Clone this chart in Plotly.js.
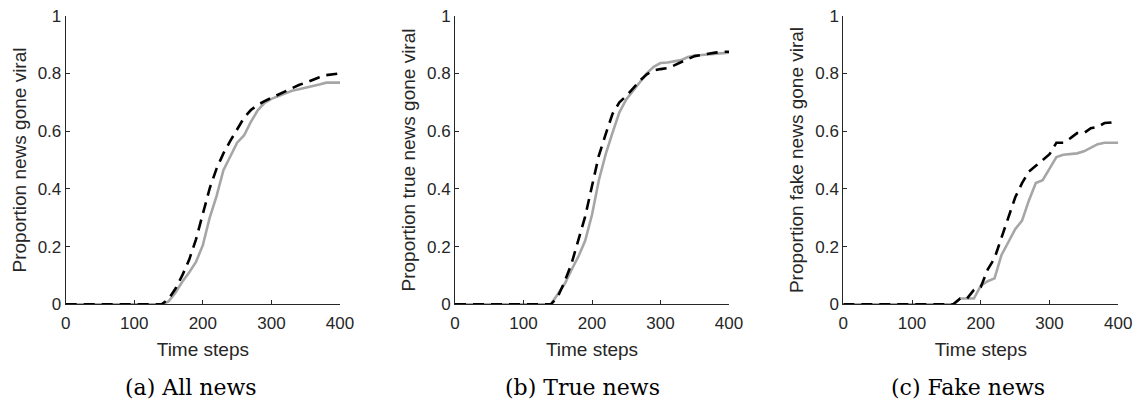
<!DOCTYPE html>
<html>
<head>
<meta charset="utf-8">
<script src="https://cdn.plot.ly/plotly-3.0.1.min.js"></script>
<style>html,body{margin:0;padding:0;background:#fff}#chart{width:1140px;height:403px}</style>
</head>
<body>
<div id="chart"></div>
<script>
// Time steps
const timeSteps = [0,10,20,30,40,50,60,70,80,90,100,110,120,130,140,150,160,170,180,190,200,210,220,230,240,250,260,270,280,290,300,310,320,330,340,350,360,370,380,390,400];

// (a) All news
const allGrey  = [0,0,0,0,0,0,0,0,0,0,0,0,0,0,0,0.01,0.04,0.078,0.11,0.147,0.205,0.3,0.375,0.465,0.511,0.56,0.585,0.632,0.672,0.698,0.712,0.722,0.732,0.74,0.745,0.75,0.756,0.762,0.768,0.768,0.768];
const allBlack = [0,0,0,0,0,0,0,0,0,0,0,0,0,0,0,0.018,0.054,0.1,0.154,0.225,0.315,0.402,0.47,0.523,0.566,0.605,0.646,0.673,0.691,0.704,0.715,0.727,0.739,0.75,0.76,0.768,0.778,0.787,0.794,0.797,0.8];

// (b) True news
const trueGrey  = [0,0,0,0,0,0,0,0,0,0,0,0,0,0,0,0.035,0.07,0.119,0.165,0.22,0.31,0.43,0.52,0.595,0.665,0.71,0.74,0.77,0.8,0.823,0.836,0.838,0.841,0.846,0.857,0.862,0.864,0.866,0.869,0.872,0.872];
const trueBlack = [0,0,0,0,0,0,0,0,0,0,0,0,0,0,0,0.026,0.078,0.14,0.22,0.304,0.41,0.515,0.59,0.66,0.7,0.722,0.748,0.775,0.797,0.81,0.815,0.818,0.828,0.84,0.85,0.86,0.865,0.868,0.872,0.875,0.875];

// (c) Fake news
const fakeGrey  = [0,0,0,0,0,0,0,0,0,0,0,0,0,0,0,0,0,0.02,0.02,0.02,0.065,0.08,0.09,0.17,0.215,0.26,0.29,0.36,0.42,0.43,0.47,0.51,0.518,0.52,0.523,0.53,0.542,0.555,0.56,0.56,0.56];
const fakeBlack = [0,0,0,0,0,0,0,0,0,0,0,0,0,0,0,0,0,0.02,0.02,0.05,0.06,0.12,0.16,0.23,0.3,0.37,0.42,0.46,0.48,0.5,0.52,0.56,0.56,0.575,0.593,0.593,0.61,0.615,0.628,0.63,0.635];

const yTitles = ["Proportion news gone viral", "Proportion true news gone viral", "Proportion fake news gone viral"];
const xTitle = "Time steps";
const captions = ["(a) All news", "(b) True news", "(c) Fake news"];
const yTickVals = [0,0.2,0.4,0.6,0.8,1];
const yTickText = ["0","0.2","0.4","0.6","0.8","1"];
const xTickVals = [0,100,200,300,400];

const greySeries = [allGrey, trueGrey, fakeGrey];
const blackSeries = [allBlack, trueBlack, fakeBlack];

const W = 1140, H = 403;
const xDomPx = [[65.7, 340], [455, 729], [843.3, 1118.3]];
const yDom = [1 - 304.3 / H, 1 - 15.7 / H];
const captionX = [191, 582, 968];

const tickFont = {family: "Liberation Sans, Arial, sans-serif", size: 17, color: "#262626"};
const titleFont = {family: "Liberation Sans, Arial, sans-serif", size: 19, color: "#262626"};

const traces = [];
const layout = {
  width: W, height: H,
  margin: {l: 0, r: 0, t: 0, b: 0},
  paper_bgcolor: "#fff", plot_bgcolor: "#fff",
  showlegend: false,
  annotations: []
};

for (let i = 0; i < 3; i++) {
  const sfx = i === 0 ? "" : String(i + 1);
  traces.push({
    x: timeSteps, y: greySeries[i], xaxis: "x" + sfx, yaxis: "y" + sfx,
    type: "scatter", mode: "lines",
    line: {color: "#a6a6a6", width: 2.6}, hoverinfo: "skip"
  });
  traces.push({
    x: timeSteps, y: blackSeries[i], xaxis: "x" + sfx, yaxis: "y" + sfx,
    type: "scatter", mode: "lines",
    line: {color: "#000000", width: 2.6, dash: "11px,7px"}, hoverinfo: "skip"
  });
  layout["xaxis" + sfx] = {
    domain: [xDomPx[i][0] / W, xDomPx[i][1] / W],
    anchor: "y" + sfx,
    range: [0, 400], fixedrange: true,
    showgrid: false, zeroline: false,
    showline: true, linecolor: "#262626", linewidth: 1,
    ticks: "inside", ticklen: 4, tickwidth: 1, tickcolor: "#262626",
    tickvals: xTickVals, ticktext: xTickVals.map(String),
    tickfont: tickFont, ticklabelstandoff: 3,
    title: {text: xTitle, font: titleFont, standoff: 10},
    automargin: false
  };
  layout["yaxis" + sfx] = {
    domain: yDom,
    anchor: "x" + sfx,
    range: [0, 1], fixedrange: true,
    showgrid: false, zeroline: false,
    showline: true, linecolor: "#262626", linewidth: 1,
    ticks: "inside", ticklen: 4, tickwidth: 1, tickcolor: "#262626",
    tickvals: yTickVals, ticktext: yTickText,
    tickfont: tickFont,
    title: {text: yTitles[i], font: titleFont, standoff: 6},
    automargin: false
  };
  layout.annotations.push({
    text: captions[i], xref: "paper", yref: "paper",
    x: captionX[i] / W, y: 1 - 387 / H, xanchor: "center", yanchor: "middle",
    showarrow: false,
    font: {family: "DejaVu Serif, serif", size: 22, color: "#000"}
  });
}

Plotly.newPlot("chart", traces, layout, {staticPlot: true, displayModeBar: false});
</script>
</body>
</html>
